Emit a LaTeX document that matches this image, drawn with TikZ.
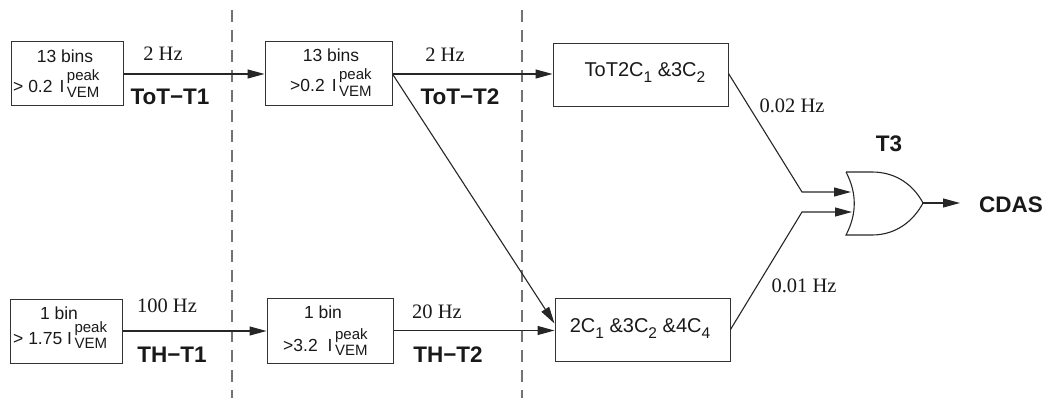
\documentclass[tikz,border=0pt]{standalone}
\usepackage{fontspec}
\setmainfont{Liberation Sans}
\newfontfamily\seriffam{Liberation Serif}
\usetikzlibrary{arrows.meta}
\newcommand\bxf{\fontsize{17.5}{20}\selectfont}
\newcommand\bxg{\fontsize{20}{22}\selectfont}
\newcommand\scf{\fontsize{15}{15}\selectfont}
\newcommand\scg{\fontsize{15.5}{15.5}\selectfont}
\newcommand\Ipv{I\hspace{2.5pt}\rlap{\raisebox{12pt}{\scf peak}}\raisebox{-4.7pt}{\scf VEM}}
\newcommand\subg[1]{\raisebox{-6pt}{\scg #1}}
\begin{document}
\begin{tikzpicture}[x=1pt,y=-1pt,
  box/.style={draw=black!80, line width=1pt, inner sep=0pt},
  bt/.style={inner sep=0pt, font=\bxf, text=black!90},
  btg/.style={inner sep=0pt, font=\bxg, text=black!90},
  hz/.style={inner sep=0pt, font=\seriffam\fontsize{20.5}{22}\selectfont, text=black!90},
  lab/.style={inner sep=0pt, font=\bfseries\fontsize{22.5}{24}\selectfont, text=black!90},
  conn/.style={draw=black!85, line width=1.1pt},
  arr/.style={conn, -{Triangle[length=17pt,width=9pt]}},
  vline/.style={draw=black!55, line width=1.3pt, dash pattern=on 12pt off 8pt},
  gate/.style={draw=black!85, line width=1.1pt}
]
\useasboundingbox (0,0) rectangle (1056,398);

% separators
\draw[vline] (232,10) -- (232,398);
\draw[vline] (522,10) -- (522,398);

% boxes
\node[box, minimum width=112pt, minimum height=64pt] (b1) at (67,74) {};
\node[box, minimum width=127pt, minimum height=64pt] (b2) at (328.5,74) {};
\node[box, minimum width=175pt, minimum height=63pt] (b3) at (640.5,75.5) {};
\node[box, minimum width=112pt, minimum height=64pt] (b4) at (66,331) {};
\node[box, minimum width=126pt, minimum height=65pt] (b5) at (330,330.5) {};
\node[box, minimum width=175pt, minimum height=63pt] (b6) at (642.5,329.5) {};

% box texts
\node[bt, anchor=base] (b1a) at (65,63) {13 bins};
\node[bt, anchor=base west] (b1b) at (13,93) {> 0.2\hspace{7pt}\Ipv};
\node[bt, anchor=base] (b2a) at (331,62) {13 bins};
\node[bt, anchor=base west] (b2b) at (290,92) {>0.2\hspace{7pt}\Ipv};
\node[bt, anchor=base] (b4a) at (59,319) {1 bin};
\node[bt, anchor=base west] (b4b) at (13,344) {> 1.75 \Ipv};
\node[bt, anchor=base] (b5a) at (323,318) {1 bin};
\node[bt, anchor=base west] (b5b) at (283,351) {>3.2\hspace{10pt}\Ipv};
\node[btg, anchor=base] (b3t) at (645,77) {ToT2C\subg{1} \&3C\subg{2}};
\node[btg, anchor=base] (b6t) at (640,332) {2C\subg{1} \&3C\subg{2} \&4C\subg{4}};

% rate labels
\node[hz, anchor=base] (r1) at (163,61) {2 Hz};
\node[hz, anchor=base] (r2) at (445,62) {2 Hz};
\node[hz, anchor=base] (r4) at (167,312) {100 Hz};
\node[hz, anchor=base] (r5) at (437,318) {20 Hz};
\node[hz, anchor=base] (r3) at (792,112.5) {0.02 Hz};
\node[hz, anchor=base] (r6) at (804,292.5) {0.01 Hz};

% trigger labels
\node[lab, anchor=base] (l1) at (170,105) {ToT−T1};
\node[lab, anchor=base] (l2) at (460,105) {ToT−T2};
\node[lab, anchor=base] (l4) at (172,362) {TH−T1};
\node[lab, anchor=base] (l5) at (448,362) {TH−T2};
\node[lab, anchor=base] (t3) at (889,152) {T3};
\node[lab, anchor=base] (cdas) at (1011,212) {CDAS};

% OR gate
\draw[gate] (846,172) -- (872,172) .. controls (897,172) and (914,186) .. (923,203)
  .. controls (914,220) and (897,235) .. (872,235) -- (846,235)
  .. controls (857,214) and (857,193) .. (846,172);
\coordinate (g1) at (851,192);
\coordinate (g2) at (852,212);
\coordinate (k1) at (802,192);
\coordinate (k2) at (802,212);
\coordinate (gout) at (923,203);
\coordinate (oend) at (960,203);

% connectors
\draw[arr] (b1.east) -- (b2.west);
\draw[arr] (b2.east) -- (b2.east -| b3.west);
\draw[arr] (b2.east) -- ([yshift=6pt]b6.west);
\draw[arr] (b4.east) -- (b4.east -| b5.west);
\draw[arr] (b5.east) -- (b5.east -| b6.west);
\draw[arr] ([yshift=2pt]b3.east) -- (k1) -- (g1);
\draw[arr] (b6.east) -- (k2) -- (g2);
\draw[arr] (gout) -- (oend);
\end{tikzpicture}
\end{document}
